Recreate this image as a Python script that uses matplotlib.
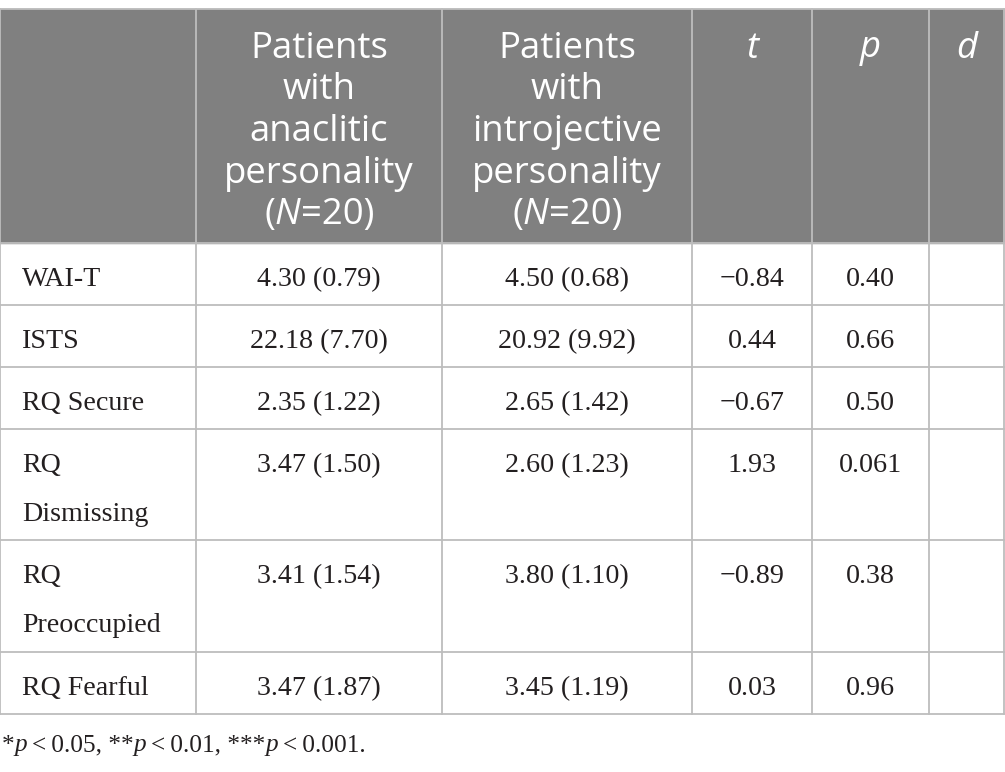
import matplotlib.pyplot as plt
from matplotlib.patches import Rectangle

# table content
row_labels = ["WAI-T", "ISTS", "RQ Secure", "RQ\nDismissing", "RQ\nPreoccupied", "RQ Fearful"]
anaclitic = ["4.30 (0.79)", "22.18 (7.70)", "2.35 (1.22)", "3.47 (1.50)", "3.41 (1.54)", "3.47 (1.87)"]
introjective = ["4.50 (0.68)", "20.92 (9.92)", "2.65 (1.42)", "2.60 (1.23)", "3.80 (1.10)", "3.45 (1.19)"]
t_vals = ["\u22120.84", "0.44", "\u22120.67", "1.93", "\u22120.89", "0.03"]
p_vals = ["0.40", "0.66", "0.50", "0.061", "0.38", "0.96"]
d_vals = ["", "", "", "", "", ""]
header_1 = ["Patients", "with", "anaclitic", "personality"]
header_2 = ["Patients", "with", "introjective", "personality"]
header_stats = ["t", "p", "d"]
footnote = [("*", "n"), ("p", "i"), ("\u2009<\u20090.05, **", "n"), ("p", "i"),
            ("\u2009<\u20090.01, ***", "n"), ("p", "i"), ("\u2009<\u20090.001.", "n")]

# layout (pixels)
col_x = [0, 196, 442, 692, 812, 929, 1004]
row_y = [243, 305, 367, 429, 540, 652, 714]
top_y = 9
head_bg = "#808080"
grid_c = "#bdbdbd"
sans = ["Open Sans", "DejaVu Sans"]
serif = ["Liberation Serif", "DejaVu Serif"]
head_fs = 26.3
body_fs = 20.2
foot_fs = 18.2

fig = plt.figure(figsize=(10.05, 7.72), dpi=100)
ax = fig.add_axes([0, 0, 1, 1])
ax.set_xlim(0, 1005)
ax.set_ylim(772, 0)
ax.axis("off")
renderer = fig.canvas.get_renderer()


def draw_runs(x, y, runs, family, size, color, ha="left"):
    # draw text pieces side by side, some italic
    texts = []
    for s, st in runs:
        t = ax.text(0, y, s, family=family, fontsize=size, color=color,
                    style="italic" if st == "i" else "normal", va="baseline")
        texts.append(t)
    widths = []
    inv = ax.transData.inverted()
    for t in texts:
        bb = t.get_window_extent(renderer)
        x0 = inv.transform((bb.x0, 0))[0]
        x1 = inv.transform((bb.x1, 0))[0]
        widths.append(x1 - x0)
    total = sum(widths)
    cx = x - total / 2 if ha == "center" else x
    for t, w in zip(texts, widths):
        t.set_x(cx)
        cx += w


# header background
ax.add_patch(Rectangle((0, top_y), col_x[-1], row_y[0] - top_y, color=head_bg, zorder=0))

# grid lines
for yy in [top_y] + row_y:
    ax.plot([0, col_x[-1]], [yy, yy], color=grid_c, lw=1.3, zorder=1)
for xx in col_x:
    ax.plot([xx, xx], [top_y, row_y[-1]], color=grid_c, lw=1.3, zorder=1)

# header text
head_base = 57.5
head_step = 41.7
for ci, lines in [(1, header_1), (2, header_2)]:
    cx = (col_x[ci] + col_x[ci + 1]) / 2
    for i, s in enumerate(lines):
        ax.text(cx, head_base + i * head_step, s, family=sans, fontsize=head_fs,
                color="white", ha="center", va="baseline")
    draw_runs(cx, head_base + 4 * head_step, [("(", "n"), ("N", "i"), ("=20)", "n")],
              sans, head_fs, "white", ha="center")
for k, s in enumerate(header_stats):
    cx = (col_x[3 + k] + col_x[4 + k]) / 2
    ax.text(cx, head_base, s, family=sans, fontsize=head_fs, style="italic",
            color="white", ha="center", va="baseline")

# body
for r in range(len(row_labels)):
    base = row_y[r] + 43
    for i, s in enumerate(row_labels[r].split("\n")):
        ax.text(22, base + i * 49, s, family=serif, fontsize=body_fs,
                color="#231f20", va="baseline")
    for c, col in enumerate([anaclitic, introjective, t_vals, p_vals, d_vals]):
        cx = (col_x[c + 1] + col_x[c + 2]) / 2
        ax.text(cx, base, col[r], family=serif, fontsize=body_fs,
                color="#231f20", ha="center", va="baseline")

# footnote
draw_runs(2, 751.5, footnote, serif, foot_fs, "#231f20")

fig.savefig("out.png", dpi=100)
